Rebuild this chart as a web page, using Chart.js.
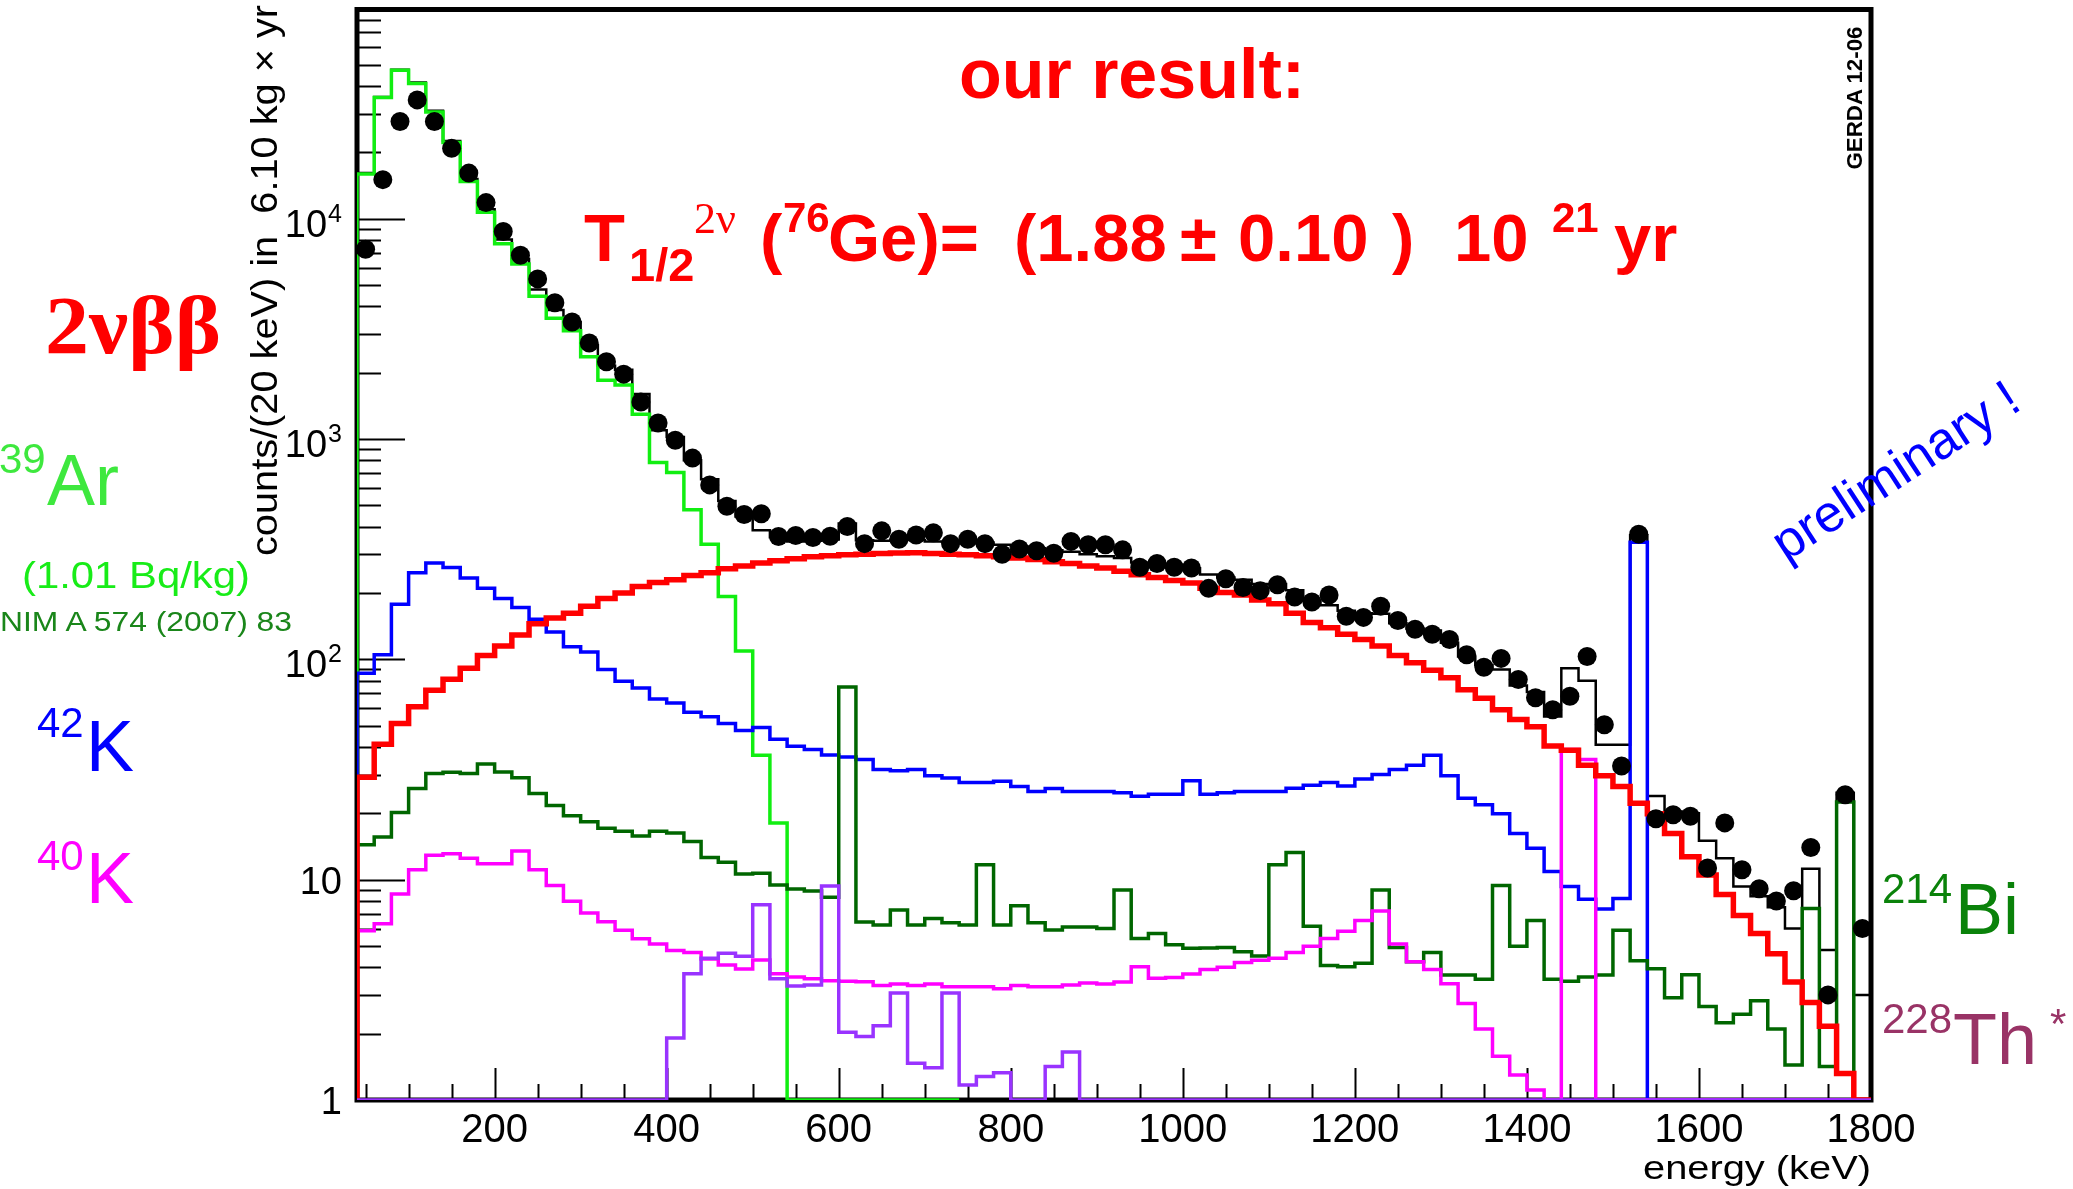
<!DOCTYPE html>
<html><head><meta charset="utf-8">
<script src="https://cdn.jsdelivr.net/npm/chart.js@4.4.1/dist/chart.umd.min.js"></script>
<style>
html,body{margin:0;padding:0;background:#fff;}
#wrap{position:relative;width:2073px;height:1189px;overflow:hidden;}
#c{position:absolute;left:0;top:0;}
#ann{position:absolute;left:0;top:0;pointer-events:none;}
#ann text{font-family:"Liberation Sans",Arial,Helvetica,sans-serif;}
</style></head><body>
<div id="wrap">
<canvas id="c" width="2073" height="1189"></canvas>
<svg id="ann" width="2073" height="1189" xmlns="http://www.w3.org/2000/svg">
  <text x="1132" y="98" text-anchor="middle" font-weight="bold" font-size="70" fill="#ff0000">our result:</text>
  <text y="261" font-weight="bold" font-size="67" fill="#ff0000">
    <tspan x="584" y="261">T</tspan><tspan x="629" y="281" font-size="47">1/2</tspan><tspan x="694" y="233" font-size="44" font-weight="normal" style="font-family:'Liberation Serif',serif">2ν</tspan><tspan x="760" y="261">(</tspan><tspan x="783" y="232" font-size="42">76</tspan><tspan x="828" y="261">Ge)=</tspan><tspan x="1014" y="261">(1.88</tspan><tspan x="1180" y="261">±</tspan><tspan x="1238" y="261">0.10</tspan><tspan x="1392" y="261">)</tspan><tspan x="1454" y="261">10</tspan><tspan x="1552" y="232" font-size="42">21</tspan><tspan x="1614" y="261">yr</tspan>
  </text>
  <text x="45" y="353" font-weight="bold" font-size="82" fill="#ff0000" textLength="176" lengthAdjust="spacingAndGlyphs" style="font-family:'Liberation Serif','Times New Roman',serif">2νββ</text>
  <text fill="#3ee83e"><tspan x="-1" y="473" font-size="42">39</tspan><tspan x="47" y="505" font-size="72">Ar</tspan></text>
  <text x="22" y="588" font-size="36" fill="#18ec18" textLength="228" lengthAdjust="spacingAndGlyphs">(1.01 Bq/kg)</text>
  <text x="0" y="631" font-size="28" fill="#1a861a" textLength="292" lengthAdjust="spacingAndGlyphs">NIM A 574 (2007) 83</text>
  <text fill="#0000ff"><tspan x="37" y="737" font-size="42">42</tspan><tspan x="86" y="771" font-size="72">K</tspan></text>
  <text fill="#ff00ff"><tspan x="37" y="870" font-size="42">40</tspan><tspan x="86" y="903" font-size="72">K</tspan></text>
  <text fill="#0a820a"><tspan x="1882" y="903" font-size="42">214</tspan><tspan x="1955" y="934" font-size="72">Bi</tspan></text>
  <text fill="#993366"><tspan x="1882" y="1033" font-size="42">228</tspan><tspan x="1953" y="1064" font-size="72">Th</tspan><tspan x="2050" y="1038" font-size="42">*</tspan></text>
  <text transform="translate(1895,470) rotate(-33)" x="0" y="18" text-anchor="middle" font-size="52" fill="#0000ff">preliminary !</text>
  <text transform="translate(1862,98) rotate(-90)" x="0" y="0" text-anchor="middle" font-weight="bold" font-size="22" fill="#000" textLength="143" lengthAdjust="spacingAndGlyphs">GERDA 12-06</text>
  <text transform="translate(277,556) rotate(-90)" x="0" y="0" font-size="37" fill="#000" textLength="551" lengthAdjust="spacingAndGlyphs" style="white-space:pre">counts/(20 keV) in  6.10 kg × yr</text>
  <text x="1871" y="1179" text-anchor="end" font-size="34" fill="#000" textLength="228" lengthAdjust="spacingAndGlyphs">energy (keV)</text>
</svg>
</div>
<script>
// ---------- data (counts per 20 keV bin) ----------
const binCenters = [50,70,90,110,130,150,170,190,210,230,250,270,290,310,330,350,370,390,410,430,
  450,470,490,510,530,550,570,590,610,630,650,670,690,710,730,750,770,790,810,830,
  850,870,890,910,930,950,970,990,1010,1030,1050,1070,1090,1110,1130,1150,1170,1190,1210,1230,
  1250,1270,1290,1310,1330,1350,1370,1390,1410,1430,1450,1470,1490,1510,1530,1550,1570,1590,1610,1630,
  1650,1670,1690,1710,1730,1750,1770,1790];

const dataCounts = [7260,15040,27600,34600,27600,20850,16100,11830,8740,6830,
  5330,4150,3400,2730,2240,1970,1472,1181,988,819,
  619,495,454,458,361,365,357,362,401,335,
  383,351,367,375,335,351,335,300,317,311,
  303,343,331,331,314,262,272,262,260,210,
  232,212,205,218,192,182,196,157,155,174,
  150,137,130,123,105,92,101,81,67,59,
  68,103,50.5,32.8,370,18.9,19.7,19.4,11.3,18.1,
  11.1,9.1,8.0,8.9,14.0,3.0,24.3,6.0];

const fitTotal = [16100,35650,47460,41450,30870,22540,15120,11050,8050,6570,
  4770,3850,3400,2670,2150,2060,1600,1095,1020,800,
  656,523,445,385,358,343,345,350,414,347,
  345,349,348,343,342,336,339,331,325,319,
  313,308,300,294,288,275,269,261,259,243,
  235,230,220,220,206,185,176,166,162,161,
  146,138,135,119,103,94,90,76,71,55,
  91,80,41,41,366,24.0,20.4,20.0,15.0,12.5,
  9.3,8.4,7.5,6.0,11.2,4.8,24.8,3.0];

const ar39 = [15960,35480,47200,41100,30480,22150,14750,10690,7700,6230,
  4440,3530,3100,2360,1850,1760,1295,783,704,478,
  333,193,109,36.7,18.1,0,0,0,0,0,
  0,0,0,0,0];

const k42 = [86.4,105,178,247,274,261,234,210,189,172,
  152,133,114,108,90,79.5,74.2,66.1,63.4,57.6,
  54.9,51.2,47.5,49.1,43.4,40.3,39.0,36.8,36.0,35.1,
  31.6,31.2,31.6,29.6,28.9,27.6,27.6,28.0,26.5,25.1,
  25.9,25.1,25.1,25.1,24.8,23.9,24.4,24.4,28.1,24.4,
  24.8,25.1,25.1,25.1,26.0,26.8,27.6,26.6,28.6,30.0,
  31.6,33.1,36.7,29.6,23.4,21.9,19.9,16.2,13.9,10.9,
  9.3,8.15,7.36,8.22,340,0,0,0,0,0,
  0,0,0,0,0,0,0,0];

const bb2nu = [29.2,41.2,51.2,60.9,72.4,81.2,91.1,104,115,129,
  145,154,162,174,189,200,214,223,230,240,
  247,258,265,274,280,286,292,295,298,300,
  302,304,305,302,300,298,295,292,288,284,
  277,272,265,260,251,242,235,228,222,210,
  201,196,186,179,162,147,139,130,123,115,
  104,96.4,89.3,82.4,72.8,66.6,59.1,53.3,49.4,40.4,
  38.7,33.1,29.6,26.5,22.2,19.9,16.2,12.7,10.5,8.57,
  6.87,5.70,4.61,3.43,2.77,2.16,1.32,0];

const bi214 = [14.4,15.6,20.2,25.9,30.3,30.7,30.3,33.5,30.8,29.0,
  24.6,21.7,19.5,18.3,17.1,16.6,15.8,16.6,16.3,14.9,
  12.6,12.0,10.6,10.7,9.46,9.08,8.89,8.32,74.8,6.43,
  6.23,7.28,6.23,6.66,6.38,6.23,11.7,6.23,7.62,6.38,
  5.91,6.10,6.10,6.01,8.98,5.41,5.70,5.06,4.88,4.90,
  4.92,4.71,4.50,11.7,13.3,6.15,4.08,4.03,4.18,8.98,
  4.92,4.24,4.67,3.69,3.69,3.53,9.4,4.99,6.52,3.53,
  3.46,3.62,3.69,5.9,4.28,3.94,2.91,3.70,2.66,2.24,
  2.45,2.82,2.10,1.44,7.39,1.42,22.5,0];

const k40 = [5.87,6.31,8.61,11.1,12.9,13.1,12.5,11.8,11.8,13.5,
  11.1,9.42,7.98,7.06,6.45,5.89,5.40,5.10,4.77,4.67,
  4.36,4.10,3.93,4.32,3.74,3.62,3.55,3.48,3.46,3.44,
  3.31,3.36,3.31,3.36,3.27,3.27,3.27,3.20,3.31,3.27,
  3.27,3.33,3.40,3.36,3.43,4.03,3.57,3.60,3.73,3.91,
  4.00,4.21,4.31,4.40,4.67,4.99,5.41,5.83,6.52,7.21,
  5.10,4.24,3.91,3.37,2.74,2.10,1.58,1.30,1.11,0,
  39.0,35.1,0,0,0,0,0,0,0,0,
  0,0,0,0,0,0,0,0];

const th228 = [0,0,0,0,0,0,0,0,0,0,
  0,0,0,0,0,0,0,0,1.91,3.74,
  4.40,4.63,4.49,7.70,3.55,3.29,3.33,9.35,2.03,1.94,
  2.17,3.06,1.47,1.40,3.06,1.17,1.28,1.33,0,0,
  1.42,1.65,0,0,0,0,0,0,0,0,
  0,0,0,0,0,0,0,0,0,0,
  0,0,0,0,0,0,0,0,0,0,
  0,0,0,0,0,0,0,0,0,0,
  0,0,0,0,0,0,0,0];

// axis ticks / labels
const xMajorTicks = [200,400,600,800,1000,1200,1400,1600,1800];
const xTickLabels = ['200','400','600','800','1000','1200','1400','1600','1800'];
const yMajorTicks = [1,10,100,1000,10000];
const yTickBase = ['1','10','10','10','10'];
const yTickExp  = ['','','2','3','4'];

const X_MIN = 40, X_MAX = 1800, Y_MIN = 1, Y_MAX = 89000;
const HALF = (binCenters[1] - binCenters[0]) / 2;

function histPoints(values) {
  const pts = [{x: binCenters[0] - HALF, y: Y_MIN}];
  values.forEach((v, i) => {
    pts.push({x: binCenters[i] + HALF, y: v > Y_MIN ? v : Y_MIN});
  });
  return pts;
}
function hist(label, values, color, width, order) {
  return {type: 'line', label, data: histPoints(values), borderColor: color, borderWidth: width,
    stepped: 'after', pointRadius: 0, fill: false, tension: 0, order,
    borderJoinStyle: 'miter', borderCapStyle: 'butt'};
}

const FONT = '"Liberation Sans", Arial, Helvetica, sans-serif';
const rootAxes = {
  id: 'rootAxes',
  beforeDatasetsDraw(chart) {
    const {ctx, chartArea: a, scales: {x, y}} = chart;
    ctx.save();
    ctx.strokeStyle = '#000';
    ctx.lineWidth = 2;
    ctx.beginPath();
    for (let v = 50; v <= X_MAX; v += 50) {
      const px = Math.round(x.getPixelForValue(v)) + 0.5;
      const len = xMajorTicks.includes(v) ? 32 : 16;
      ctx.moveTo(px, a.bottom); ctx.lineTo(px, a.bottom - len);
    }
    for (let d = 1; d <= 10000; d *= 10) {
      for (let m = 1; m <= 9; m++) {
        const v = m * d;
        if (v > Y_MAX) break;
        const py = Math.round(y.getPixelForValue(v)) + 0.5;
        const len = m === 1 ? 48 : 24;
        ctx.moveTo(a.left, py); ctx.lineTo(a.left + len, py);
      }
    }
    ctx.stroke();
    ctx.lineWidth = 5;
    ctx.strokeRect(a.left, a.top, a.right - a.left, a.bottom - a.top);
    ctx.restore();
  },
  afterDraw(chart) {
    const {ctx, chartArea: a, scales: {x, y}} = chart;
    ctx.save();
    ctx.fillStyle = '#000';
    ctx.textBaseline = 'alphabetic';
    ctx.font = '40px ' + FONT;
    ctx.textAlign = 'center';
    xMajorTicks.forEach((v, i) => {
      ctx.fillText(xTickLabels[i], x.getPixelForValue(v), 1142);
    });
    ctx.textAlign = 'right';
    const right = a.left - 15;
    yMajorTicks.forEach((v, i) => {
      const py = y.getPixelForValue(v);
      const exp = yTickExp[i];
      if (exp) {
        ctx.font = '25px ' + FONT;
        const ew = ctx.measureText(exp).width;
        ctx.fillText(exp, right, py + 3);
        ctx.font = '38px ' + FONT;
        ctx.fillText(yTickBase[i], right - ew - 1, py + 18);
      } else {
        ctx.font = '38px ' + FONT;
        ctx.fillText(yTickBase[i], right, py + 14);
      }
    });
    ctx.restore();
  }
};

const dots = binCenters.map((c, i) => ({x: c, y: dataCounts[i]}));

new Chart(document.getElementById('c'), {
  type: 'line',
  data: {
    datasets: [
      {type: 'line', label: 'data', data: dots, showLine: false, pointRadius: 9.5,
       pointBackgroundColor: '#000', pointBorderColor: '#000', pointBorderWidth: 0, order: 0},
      hist('228Th', th228, '#9933ff', 3.5, 1),
      hist('2nbb', bb2nu, '#ff0000', 5.5, 2),
      hist('40K', k40, '#ff00ff', 3.5, 3),
      hist('214Bi', bi214, '#006600', 3.5, 4),
      hist('42K', k42, '#0000ff', 3.5, 5),
      hist('39Ar', ar39, '#11ee11', 3.5, 6),
      hist('fit', fitTotal, '#000000', 2.5, 7)
    ]
  },
  options: {
    responsive: false,
    devicePixelRatio: 1,
    animation: false,
    events: [],
    layout: {padding: {left: 357, right: 202, top: 6, bottom: 89}},
    plugins: {legend: {display: false}, tooltip: {enabled: false}, title: {display: false}},
    scales: {
      x: {type: 'linear', min: X_MIN, max: X_MAX, grid: {display: false, drawTicks: false},
          border: {display: false}, ticks: {display: false}, afterFit(s) { s.height = 0; }},
      y: {type: 'logarithmic', min: Y_MIN, max: Y_MAX, grid: {display: false, drawTicks: false},
          border: {display: false}, ticks: {display: false}, afterFit(s) { s.width = 0; }}
    }
  },
  plugins: [rootAxes]
});
</script>
</body></html>
